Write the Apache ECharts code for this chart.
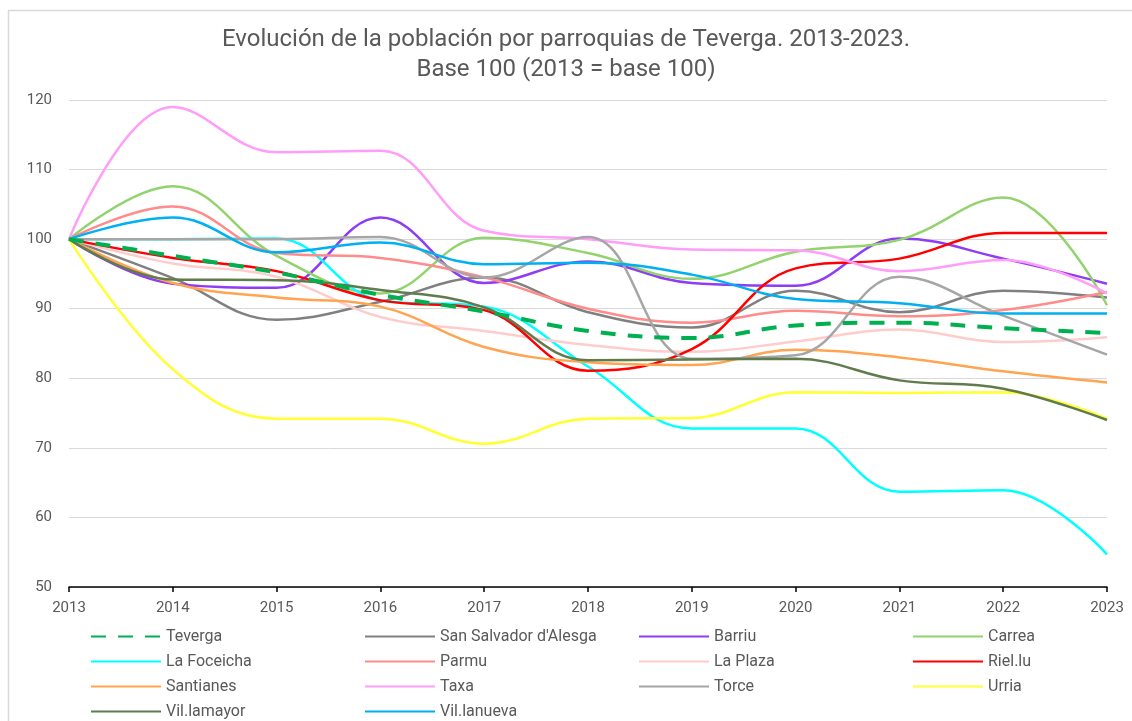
<!DOCTYPE html>
<html>
<head>
<meta charset="utf-8">
<title>Evolución de la población por parroquias de Teverga</title>
<script src="https://cdn.jsdelivr.net/npm/echarts@6/dist/echarts.min.js"></script>
<style>
  html, body { margin: 0; padding: 0; background: #fff; }
  #chart { width: 1132px; height: 721px; }
</style>
</head>
<body>
<div id="chart"></div>
<script>
// años (eje X)
const years = ["2013", "2014", "2015", "2016", "2017", "2018", "2019", "2020", "2021", "2022", "2023"];

// índices base 100
const teverga     = [100, 97.6, 95.2, 92.0, 89.6, 86.8, 85.8, 87.6, 88.0, 87.2, 86.5];
const sanSalvador = [100, 94.4, 88.4, 91.0, 94.5, 89.5, 87.3, 92.6, 89.5, 92.6, 91.6];
const barriu      = [100, 93.6, 93.0, 103.1, 93.7, 96.8, 93.7, 93.3, 100.1, 97.2, 93.6];
const carrea      = [100, 107.6, 97.6, 92.2, 100.2, 98.0, 94.3, 98.2, 99.9, 106.0, 90.5];
const laFoceicha  = [100, 100, 100.1, 91.2, 90.3, 81.7, 72.8, 72.8, 63.7, 63.9, 54.7];
const parmu       = [100, 104.7, 98.0, 97.3, 94.5, 90.0, 88.0, 89.7, 88.9, 89.8, 92.4];
const laPlaza     = [100, 96.5, 94.6, 88.8, 86.8, 84.8, 83.8, 85.3, 87.0, 85.2, 85.9];
const rielLu      = [100, 97.3, 95.4, 91.2, 89.8, 81.1, 84.2, 95.8, 97.2, 100.9, 100.9];
const santianes   = [100, 93.7, 91.6, 90.3, 84.5, 82.3, 81.9, 84.1, 83.0, 81.0, 79.4];
const taxa        = [100, 119.0, 112.5, 112.7, 101.2, 100.0, 98.5, 98.4, 95.4, 97.0, 92.2];
const torce       = [100, 100, 100, 100.3, 94.5, 100.3, 82.8, 83.3, 94.6, 89.0, 83.4];
const urria       = [100, 81.3, 74.2, 74.2, 70.6, 74.2, 74.3, 78.0, 77.9, 78.0, 74.2];
const vilLamayor  = [100, 94.2, 94.1, 92.7, 90.2, 82.6, 82.7, 82.8, 79.7, 78.5, 74.0];
const vilLanueva  = [100, 103.1, 98.1, 99.5, 96.4, 96.6, 94.9, 91.4, 90.8, 89.3, 89.3];

const yTicks = { min: 50, max: 120, step: 10 };

const seriesDefs = [
  { name: "Teverga", data: teverga, color: "#00B050", dashed: true },
  { name: "San Salvador d'Alesga", data: sanSalvador, color: "#808080" },
  { name: "Barriu", data: barriu, color: "#8F3CF5" },
  { name: "Carrea", data: carrea, color: "#92D36E" },
  { name: "La Foceicha", data: laFoceicha, color: "#00FFFF" },
  { name: "Parmu", data: parmu, color: "#FF8B8B" },
  { name: "La Plaza", data: laPlaza, color: "#FFCCCC" },
  { name: "Riel.lu", data: rielLu, color: "#FF0000" },
  { name: "Santianes", data: santianes, color: "#FFA552" },
  { name: "Taxa", data: taxa, color: "#FF9EF8" },
  { name: "Torce", data: torce, color: "#A6A6A6" },
  { name: "Urria", data: urria, color: "#FFFF33" },
  { name: "Vil.lamayor", data: vilLamayor, color: "#607B4C" },
  { name: "Vil.lanueva", data: vilLanueva, color: "#00B0F0" }
];

const fontFamily = "Roboto, 'DejaVu Sans', sans-serif";
const textColor = "#595959";

const chart = echarts.init(document.getElementById("chart"));

const series = seriesDefs.map(s => ({
  name: s.name,
  type: "line",
  data: s.data,
  smooth: 0.4,
  symbol: "none",
  z: s.dashed ? 5 : 2,
  color: s.color,
  lineStyle: {
    color: s.color,
    width: s.dashed ? 4 : 2.5,
    type: s.dashed ? [15, 12] : "solid",
    cap: "butt"
  },
  emphasis: { disabled: true }
}));

const options = {
  backgroundColor: "#fff",
  animation: false,
  // marco del gráfico (sólo se ven los bordes superior e izquierdo)
  graphic: [{
    type: "rect",
    shape: { x: 8.5, y: 10.5, width: 1300, height: 900 },
    style: { fill: "none", stroke: "#D9D9D9", lineWidth: 1.5 },
    silent: true,
    z: -1
  }],
  title: {
    text: "Evolución de la población por parroquias de Teverga. 2013-2023.\nBase 100 (2013 = base 100)",
    left: "center",
    top: 20,
    textStyle: {
      fontFamily: fontFamily,
      fontSize: 24,
      fontWeight: "normal",
      color: textColor,
      lineHeight: 30,
      align: "center"
    }
  },
  grid: {
    left: 69,
    right: 25,
    top: 100,
    bottom: 134,
    containLabel: false
  },
  legend: {
    left: 85,
    top: 619,
    width: 1100,
    itemWidth: 70,
    itemHeight: 2,
    itemGap: 0,
    itemStyle: { opacity: 0 },
    data: seriesDefs.map(s => s.name),
    textStyle: {
      fontFamily: fontFamily,
      fontSize: 16,
      color: textColor,
      width: 198,
      lineHeight: 25,
      overflow: "none"
    }
  },
  xAxis: {
    type: "category",
    data: years,
    boundaryGap: false,
    axisLine: { lineStyle: { color: "#000", width: 1.5 } },
    axisTick: { show: true, length: 5, alignWithLabel: true, lineStyle: { color: "#000", width: 1.5 } },
    axisLabel: { fontFamily: fontFamily, fontSize: 15, color: textColor, margin: 14 },
    splitLine: { show: false }
  },
  yAxis: {
    type: "value",
    min: yTicks.min,
    max: yTicks.max,
    interval: yTicks.step,
    axisLine: { show: false },
    axisTick: { show: false },
    axisLabel: { fontFamily: fontFamily, fontSize: 15, color: textColor, margin: 17 },
    splitLine: { lineStyle: { color: "#D9D9D9", width: 1 } }
  },
  series: series
};

chart.setOption(options);
</script>
</body>
</html>
